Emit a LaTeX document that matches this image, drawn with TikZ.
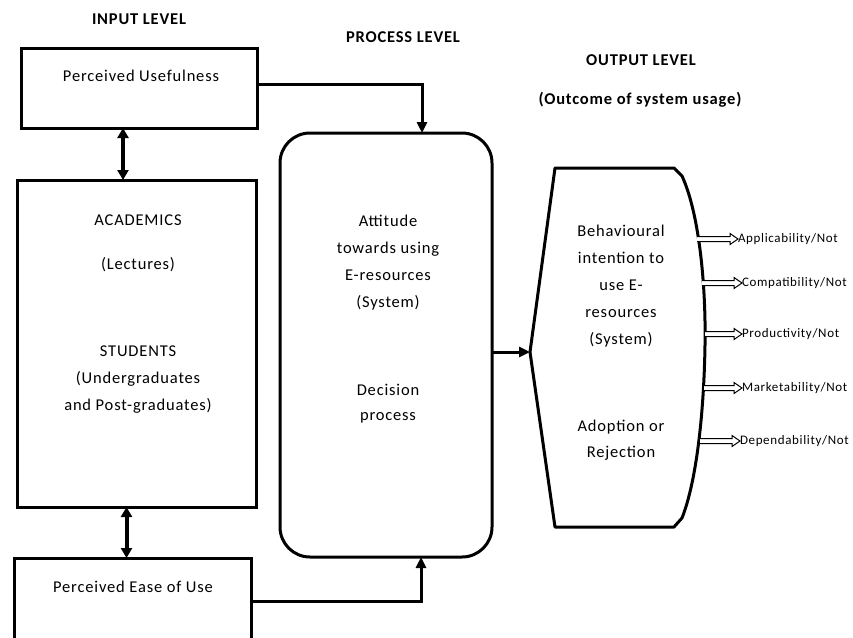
\documentclass[tikz,border=0pt]{standalone}
\usepackage{fontspec}
\setmainfont{Carlito}[LetterSpace=5]
\usetikzlibrary{arrows.meta}
\begin{document}
\begin{tikzpicture}[x=1pt,y=-1pt,
  every node/.style={inner sep=0pt, outer sep=0pt},
  box/.style={draw, line width=3pt, rectangle},
  txt/.style={font=\fontsize{16.5}{27}\selectfont, align=center},
  head/.style={font=\bfseries\fontsize{16.5}{18}\selectfont},
  small/.style={font=\fontsize{13}{15}\selectfont, anchor=west},
  conn/.style={line width=3pt, -{Triangle[length=11pt,width=10pt]}},
  dbl/.style={line width=4pt, {Triangle[length=10pt,width=11pt]}-{Triangle[length=10pt,width=11pt]}},
  hollow/.style={line width=1pt, fill=white}
]
\useasboundingbox (0,0) rectangle (853,637);

% boxes
\node[box, minimum width=236pt, minimum height=80pt] (pu) at (139,88) {};
\node[box, minimum width=239pt, minimum height=327pt] (acad) at (136.5,343.5) {};
\node[box, minimum width=237pt, minimum height=87pt] (peu) at (132.5,601.5) {};
\node[box, rounded corners=30pt, minimum width=212pt, minimum height=424pt] (rb) at (386,345) {};

% output shape
\draw[line width=3pt, line join=round] (555,168) -- (674,168) -- (682,176)
  .. controls (700,215) and (706,290) .. (705,345)
  .. controls (704,410) and (697,480) .. (682,518)
  -- (674,527) -- (555,527) -- (530,352) -- cycle;
\coordinate (hexL) at (530,352);

% headings
\node[head] (hin) at (139,19) {INPUT LEVEL};
\node[head] (hpr) at (403,37.5) {PROCESS LEVEL};
\node[head] (hout) at (641,60) {OUTPUT LEVEL};
\node[head] (hsub) at (640,100) {(Outcome of system usage)};

% texts
\node[txt] (tpu) at (141,75.5) {Perceived Usefulness};
\node[txt] (tac) at (138,220) {ACADEMICS};
\node[txt] (tle) at (138,265) {(Lectures)};
\node[txt] (tst) at (138,380) {STUDENTS\\(Undergraduates\\and Post-graduates)};
\node[txt] (tpe) at (133,587) {Perceived Ease of Use};
\node[txt] (tat) at (388,262.5) {Attitude\\towards using\\E-resources\\(System)};
\node[txt, font=\fontsize{16.5}{25}\selectfont] (tde) at (388,403.5) {Decision\\process};
\node[txt] (tbe) at (621,286.5) {Behavioural\\intention to\\use E-\\resources\\(System)};
\node[txt, font=\fontsize{16.5}{26}\selectfont] (tad) at (621,440) {Adoption or\\Rejection};

% connectors
\draw[conn] ([yshift=4pt]pu.east) -| ([xshift=36pt]rb.north);
\draw[conn] (peu.east) -| ([xshift=35pt]rb.south);
\draw[conn] (rb.east |- hexL) -- (hexL);
\draw[dbl] ([xshift=-16pt]pu.south) -- ([xshift=-16pt]pu.south |- acad.north);
\draw[dbl] ([xshift=-10pt]acad.south) -- ([xshift=-10pt]acad.south |- peu.north);

% hollow output arrows
\foreach \xa/\xb/\yy/\lab/\nm in {697/738/239/Applicability/oa,702/742/283/Compatibility/ob,705/742/334/Productivity/oc,704/742/388/Marketability/od,700/740/441/Dependability/oe} {
  \draw[hollow] (\xa,\yy-2.5) -- (\xb-8,\yy-2.5) -- (\xb-8,\yy-5.5) -- (\xb,\yy) -- (\xb-8,\yy+5.5) -- (\xb-8,\yy+2.5) -- (\xa,\yy+2.5);
  \node[small] (\nm) at (\xb,\yy) {\lab/Not};
}
\end{tikzpicture}
\end{document}
